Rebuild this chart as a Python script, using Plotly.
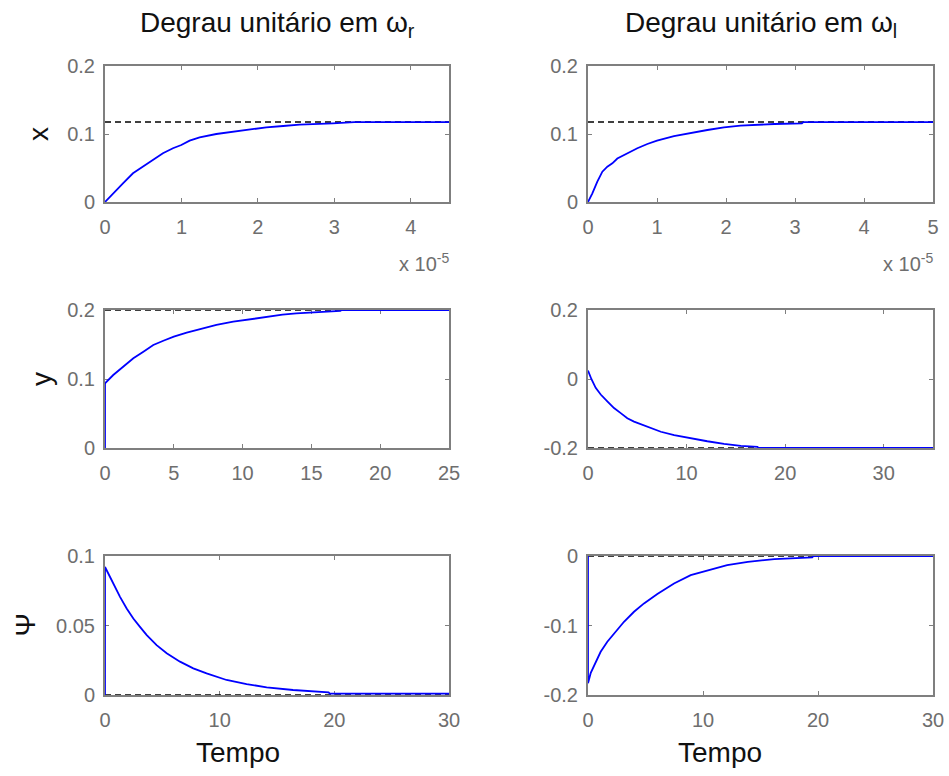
import plotly.graph_objects as go

W, H = 949, 776

# ---------------- data ----------------
# Row 1: x, time in units of 1e-5
t_x_r = [0, 0.105, 0.235, 0.366, 0.497, 0.627, 0.758, 0.889, 0.998, 1.107, 1.238, 1.456,
         1.674, 1.89, 2.11, 2.33, 2.545, 2.98, 3.24, 3.26, 4.5]
v_x_r = [0, 0.0128, 0.0275, 0.0422, 0.0519, 0.0627, 0.0716, 0.079, 0.0838, 0.0902, 0.0951,
         0.1, 0.1034, 0.1069, 0.1098, 0.1118, 0.1137, 0.1157, 0.1166, 0.1176, 0.1176]
t_x_l = [0, 0.063, 0.135, 0.208, 0.28, 0.353, 0.425, 0.57, 0.715, 0.86, 1.0, 1.246, 1.49,
         1.73, 1.97, 2.21, 2.7, 3.1, 3.12, 5.0]
v_x_l = [0, 0.0128, 0.030, 0.0446, 0.052, 0.0569, 0.064, 0.0716, 0.079, 0.0853, 0.0902,
         0.097, 0.102, 0.1059, 0.1098, 0.1122, 0.1147, 0.1157, 0.1176, 0.1176]
x_final = 0.1176

# Row 2: y
t_y_r = [0, 0, 0.6, 1.33, 2.06, 2.79, 3.51, 4.24, 5.0, 5.94, 6.9, 8.1, 9.32, 10.5, 11.75,
         12.9, 13.9, 15.4, 17.1, 17.2, 25]
v_y_r = [0, 0.0938, 0.1058, 0.1179, 0.13, 0.1396, 0.1493, 0.1555, 0.1613, 0.1671, 0.172,
         0.1783, 0.183, 0.1865, 0.1903, 0.1932, 0.1952, 0.1971, 0.1986, 0.2, 0.2]
t_y_l = [0, 0.34, 0.78, 1.29, 1.96, 2.64, 3.32, 3.99, 4.67, 5.35, 6.37, 7.39, 8.74, 10.4,
         12.1, 13.8, 15.5, 17.2, 17.3, 35]
v_y_l = [0.0245, 0, -0.0255, -0.045, -0.0647, -0.0843, -0.099, -0.1137, -0.1235, -0.1314,
         -0.1431, -0.1529, -0.1627, -0.1725, -0.1804, -0.1882, -0.1941, -0.197, -0.2, -0.2]
y_final_r = 0.2
y_final_l = -0.2

# Row 3: psi
t_p_r = [0, 0, 0.44, 0.87, 1.31, 1.89, 2.47, 3.05, 3.64, 4.5, 5.38, 6.54, 7.7, 8.86, 10.6,
         12.35, 14.1, 16.4, 19.5, 19.6, 30]
v_p_r = [0, 0.0921, 0.0849, 0.0777, 0.0706, 0.0622, 0.055, 0.049, 0.0431, 0.0359, 0.030,
         0.024, 0.0192, 0.0156, 0.0108, 0.0079, 0.0055, 0.0036, 0.0019, 0.001, 0.001]
t_p_l = [0, 0, 0.23, 0.67, 1.1, 1.68, 2.26, 3.13, 4.0, 4.87, 6.03, 7.48, 8.93, 10.4, 12.1,
         13.9, 16.2, 19.5, 19.6, 30]
v_p_l = [0, -0.183, -0.1686, -0.152, -0.1378, -0.1234, -0.1114, -0.0946, -0.0802, -0.0682,
         -0.0548, -0.0395, -0.0275, -0.0203, -0.013, -0.0083, -0.0045, -0.002, 0, 0]
p_final = 0.0

# axis ranges & ticks
xr = {1: [0, 4.5], 2: [0, 5], 3: [0, 25], 4: [0, 35], 5: [0, 30], 6: [0, 30]}
yr = {1: [0, 0.2], 2: [0, 0.2], 3: [0, 0.2], 4: [-0.2, 0.2], 5: [0, 0.1], 6: [-0.2, 0]}
xticks = {1: [0, 1, 2, 3, 4], 2: [0, 1, 2, 3, 4, 5], 3: [0, 5, 10, 15, 20, 25],
          4: [0, 10, 20, 30], 5: [0, 10, 20, 30], 6: [0, 10, 20, 30]}
xticktext = {k: [str(v) for v in xticks[k]] for k in xticks}
yticks = {1: [0, 0.1, 0.2], 2: [0, 0.1, 0.2], 3: [0, 0.1, 0.2], 4: [-0.2, 0, 0.2],
          5: [0, 0.05, 0.1], 6: [-0.2, -0.1, 0]}
yticktext = {1: ["0", "0.1", "0.2"], 2: ["0", "0.1", "0.2"], 3: ["0", "0.1", "0.2"],
             4: ["-0.2", "0", "0.2"], 5: ["0", "0.05", "0.1"], 6: ["-0.2", "-0.1", "0"]}

titles = ["Degrau unitário em ω<sub>r</sub>", "Degrau unitário em ω<sub>l</sub>"]
ylabels = ["x", "y", "Ψ"]
xlabel = "Tempo"
scale_label = "x 10<sup>-5</sup>"

# ---------------- layout geometry (page pixels) ----------------
colpx = [(105, 449), (588, 933)]
rowpx = [(66, 202), (310, 448), (556, 695)]
xlabel_cx = [238, 720]


def fx(px):
    return px / W


def fy(py):
    return 1 - py / H


FONT = "Liberation Sans, Arial, sans-serif"
TICKC = "#6e6e6e"
BOXC = "#7f7f7f"

fig = go.Figure()

series = {
    1: (t_x_r, v_x_r, x_final),
    2: (t_x_l, v_x_l, x_final),
    3: (t_y_r, v_y_r, y_final_r),
    4: (t_y_l, v_y_l, y_final_l),
    5: (t_p_r, v_p_r, p_final),
    6: (t_p_l, v_p_l, p_final),
}

layout = {}
for k in range(1, 7):
    r = (k - 1) // 2
    c = (k - 1) % 2
    xa = "x" if k == 1 else f"x{k}"
    ya = "y" if k == 1 else f"y{k}"
    t, v, fin = series[k]
    fig.add_trace(go.Scatter(x=xr[k], y=[fin, fin], xaxis=xa, yaxis=ya, mode="lines",
                             line=dict(color="black", width=1.5, dash="6px,4px"),
                             showlegend=False, hoverinfo="skip"))
    fig.add_trace(go.Scatter(x=t, y=v, xaxis=xa, yaxis=ya, mode="lines",
                             line=dict(color="#0000ff", width=1.8),
                             showlegend=False))
    x0, x1 = colpx[c]
    y0, y1 = rowpx[r]
    common = dict(showgrid=False, zeroline=False, showline=True, linecolor=BOXC, linewidth=2,
                  mirror="ticks", ticks="inside", ticklen=4, tickcolor=BOXC, tickwidth=1,
                  tickfont=dict(family=FONT, size=20, color=TICKC), layer="below traces",
                  fixedrange=True, automargin=False)
    layout["xaxis" if k == 1 else f"xaxis{k}"] = dict(
        common, domain=[fx(x0), fx(x1)], range=xr[k], anchor=ya,
        tickmode="array", tickvals=xticks[k], ticktext=xticktext[k], ticklabelstandoff=6)
    layout["yaxis" if k == 1 else f"yaxis{k}"] = dict(
        common, domain=[fy(y1), fy(y0)], range=yr[k], anchor=xa,
        tickmode="array", tickvals=yticks[k], ticktext=yticktext[k], ticklabelstandoff=4)

ann = []
for c in range(2):
    cx = (colpx[c][0] + colpx[c][1]) / 2
    ann.append(dict(text=titles[c], x=fx(cx), y=fy(24), xref="paper", yref="paper",
                    xanchor="center", yanchor="middle", showarrow=False,
                    font=dict(family=FONT, size=28, color="#111111")))
    ann.append(dict(text=xlabel, x=fx(xlabel_cx[c]), y=fy(752), xref="paper", yref="paper",
                    xanchor="center", yanchor="middle", showarrow=False,
                    font=dict(family=FONT, size=28, color="#111111")))
    ann.append(dict(text=scale_label, x=fx(colpx[c][1] + 2), y=fy(262), xref="paper",
                    yref="paper", xanchor="right", yanchor="middle", showarrow=False,
                    font=dict(family=FONT, size=20, color=TICKC)))

ylab_x = [38, 41, 25]
for r in range(3):
    cy = (rowpx[r][0] + rowpx[r][1]) / 2
    ann.append(dict(text=ylabels[r], x=fx(ylab_x[r]), y=fy(cy), xref="paper", yref="paper",
                    xanchor="center", yanchor="middle", showarrow=False, textangle=-90,
                    font=dict(family=FONT, size=28, color="#111111")))

fig.update_layout(**layout)
fig.update_layout(width=W, height=H, margin=dict(l=0, r=0, t=0, b=0, autoexpand=False),
                  paper_bgcolor="white", plot_bgcolor="white", annotations=ann,
                  showlegend=False)

fig.write_html("out.html", config={"displayModeBar": False})
